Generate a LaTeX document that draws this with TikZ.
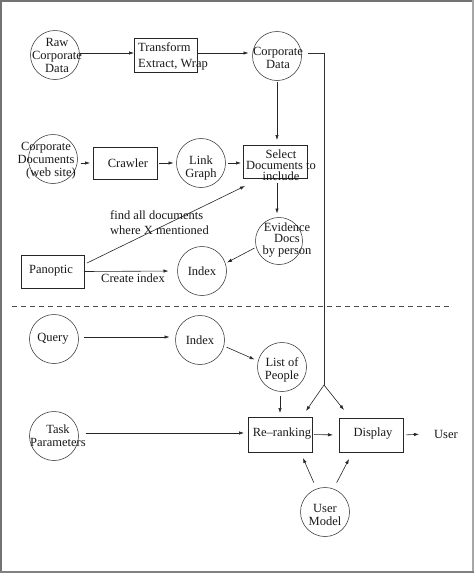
\documentclass[tikz,border=0pt]{standalone}
\usepackage{fontspec}
\setmainfont{Liberation Serif}
\usetikzlibrary{arrows.meta,calc}
\begin{document}
\begin{tikzpicture}[x=1pt,y=-1pt,
  cir/.style={circle,draw=black!85,line width=0.5pt,minimum size=49pt,inner sep=0pt,outer sep=0pt},
  bx/.style={rectangle,draw=black!85,line width=0.7pt,inner sep=0pt,outer sep=0pt,minimum width=64pt,minimum height=33pt},
  txt/.style={align=center,inner sep=0pt,text=black!90,font=\fontsize{12.5}{13}\selectfont},
  arr/.style={-{Latex[length=5pt,width=3.4pt]},line width=0.6pt,draw=black!85},
  frame/.style={line width=2.4pt}
]
\useasboundingbox (0,0) rectangle (474,573);
\fill[white] (0,0) rectangle (474,573);
% frame
\draw[frame,draw=black!55] (1.2,0) -- (1.2,573);
\draw[frame,draw=black!55] (0,1.2) -- (474,1.2);
\draw[frame,draw=black!35] (472.8,0) -- (472.8,573);
\draw[frame,draw=black!50] (0,571.8) -- (474,571.8);

% shapes
\node[cir] (raw) at (55,55) {};
\node[bx,minimum width=63pt,minimum height=34pt] (transform) at (165.5,55) {};
\node[cir] (corp) at (277,56) {};
\node[cir] (corpdocs) at (53,159) {};
\node[bx,minimum height=32pt] (crawler) at (125,163) {};
\node[cir] (link) at (201,163) {};
\node[bx] (select) at (275,161.5) {};
\node[cir,minimum size=47pt] (evidence) at (279,241) {};
\node[cir] (index1) at (202,271) {};
\node[bx,minimum width=63pt] (panoptic) at (52.5,271.5) {};
\node[cir] (query) at (54,339) {};
\node[cir] (index2) at (200,340) {};
\node[cir] (list) at (282,367) {};
\node[cir] (task) at (54,436) {};
\node[bx,minimum height=35pt] (rerank) at (280,434.5) {};
\node[bx,minimum height=34pt] (display) at (371,435) {};
\node[cir] (usermodel) at (325,512) {};
\coordinate (split) at (324,385);

% texts
\node[txt] (rawT) at (57,55.5) {Raw\\Corporate\\Data};
\node[txt,align=left,anchor=west,font=\fontsize{12.5}{16}\selectfont] (transformT) at (138,56.5) {Transform\\Extract, Wrap};
\node[txt] (corpT) at (278,57.5) {Corporate\\Data};
\node[txt] (corpdocsT) at (46,160.5) {Corporate\\Documents\\\hspace*{10pt}(web site)};
\node[txt] (crawlerT) at (128,163) {Crawler};
\node[txt] (linkT) at (201,168) {Link\\Graph};
\node[txt,font=\fontsize{12.5}{11}\selectfont] (selectT) at (281,165) {Select\\Documents to\\include};
\node[txt,font=\fontsize{12.5}{11.5}\selectfont] (evidenceT) at (287,240) {Evidence\\Docs\\by person};
\node[txt] (index1T) at (202,271) {Index};
\node[txt] (panopticT) at (51,271) {Panoptic};
\node[txt,align=left,anchor=west,font=\fontsize{12.5}{15}\selectfont] (findT) at (110,222.5) {find all documents\\where X mentioned};
\node[txt] (createT) at (133,278) {Create index};
\node[txt] (queryT) at (53,339) {Query};
\node[txt] (index2T) at (200,340) {Index};
\node[txt] (listT) at (282,370) {List of\\People};
\node[txt] (taskT) at (58,436) {Task\\Parameters};
\node[txt] (rerankT) at (282,434) {Re--ranking};
\node[txt] (displayT) at (373,434) {Display};
\node[txt] (userT) at (446,434) {User};
\node[txt] (usermodelT) at (325,515) {User\\Model};

% dashed separator
\draw[line width=0.6pt,draw=black!70,dash pattern=on 5pt off 4pt] (12,306) -- (452,306);

% connectors
\draw[arr] ([yshift=2pt]raw.east) -- ([yshift=2pt]transform.west);
\draw[arr,shorten >=4pt] ([yshift=2pt]transform.east) -- ([yshift=3pt]corp.west);
\draw[line width=1pt,draw=black!80] ([xshift=6pt,yshift=3pt]corp.east) -| (split);
\draw[arr] (split) -- ($(rerank.north east)+(-6,-6)$);
\draw[arr] (split) -- ($(display.north west)+(5,-8)$);
\draw[arr,shorten <=1pt,shorten >=5pt] (corp.south) -- (corp.south |- select.north);
\draw[arr,shorten <=3pt,shorten >=3pt] (corpdocs.east |- crawler.west) -- (crawler.west);
\draw[arr,shorten <=2pt,shorten >=3pt] (crawler.east) -- (link.west);
\draw[arr,shorten <=2pt,shorten >=2pt] (link.east) -- (select.west |- link.east);
\draw[arr] ($(panoptic.north east)+(3,8)$) -- ($(select.south west)+(2,8)$);
\draw[arr,shorten <=5pt,shorten >=4pt] (select.south -| corp.south) -- (evidence.north -| corp.south);
\draw[arr,shorten <=2pt,shorten >=2pt] (evidence.195) -- (index1.18);
\draw[arr,shorten >=9pt] (panoptic.east) -- (index1.west);
\draw[arr,shorten <=5pt,shorten >=6pt] ([yshift=2pt]query.east) -- ([yshift=3pt]index2.west);
\draw[arr,shorten <=3pt,shorten >=4pt] (index2.346) -- (list.166);
\draw[arr,shorten <=4pt,shorten >=4pt] ([xshift=-2pt]list.south) -- ([xshift=-2pt]list.south |- rerank.north);
\draw[arr,shorten <=7pt,shorten >=4pt] ([yshift=3pt]task.east) -- ([yshift=1.5pt]rerank.west);
\draw[arr,shorten <=2pt,shorten >=6pt] (rerank.east) -- (display.west);
\draw[arr,shorten <=3pt,shorten >=6pt] (display.east) -- ([xshift=-9pt]userT.west);
\draw[arr,shorten <=7pt] (usermodel.110) -- ($(rerank.south)+(23,6)$);
\draw[arr,shorten <=7pt] (usermodel.70) -- ($(display.south)+(-22,7)$);
\end{tikzpicture}
\end{document}
